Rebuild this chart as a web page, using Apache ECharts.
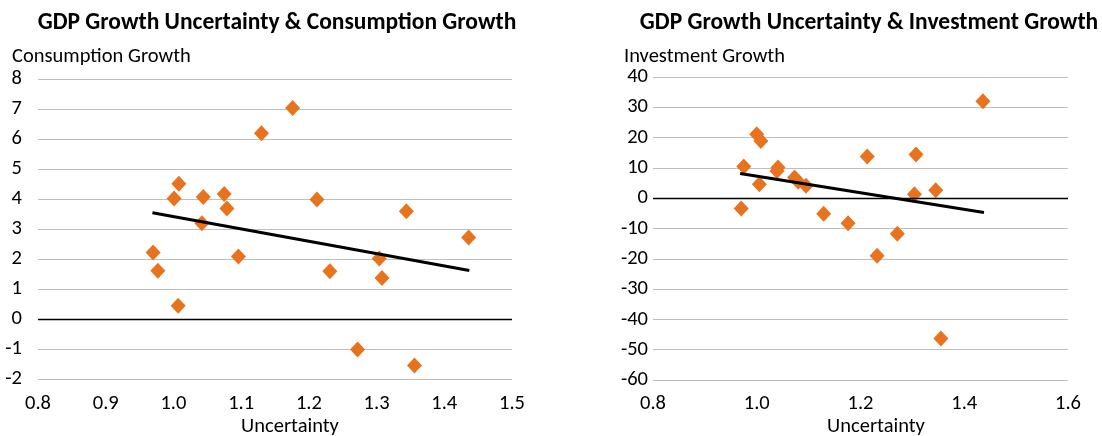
<!DOCTYPE html>
<html>
<head>
<meta charset="utf-8">
<script src="https://cdn.jsdelivr.net/npm/echarts@6/dist/echarts.min.js"></script>
<style>html,body{margin:0;padding:0;background:#fff}#c{width:1102px;height:436px}</style>
</head>
<body>
<div id="c"></div>
<script>
// ---- data ----
const titleLeft = 'GDP Growth Uncertainty & Consumption Growth';
const titleRight = 'GDP Growth Uncertainty & Investment Growth';
const yNameLeft = 'Consumption Growth';
const yNameRight = 'Investment Growth';
const xName = 'Uncertainty';

const consUncertainty = [1.176, 1.130, 1.008, 1.001, 1.044, 1.075, 1.079, 1.212, 1.344, 1.042, 0.970, 0.977, 1.007, 1.096, 1.231, 1.304, 1.308, 1.436, 1.272, 1.356];
const consGrowth      = [7.03, 6.19, 4.51, 4.02, 4.07, 4.17, 3.68, 3.98, 3.59, 3.19, 2.22, 1.61, 0.44, 2.08, 1.59, 2.02, 1.37, 2.72, -1.02, -1.55];
const consTrendX = [0.969, 1.437];
const consTrendY = [3.54, 1.62];

const invUncertainty = [1.436, 1.000, 1.008, 0.975, 1.041, 1.039, 1.005, 1.073, 1.080, 1.095, 1.213, 1.307, 1.304, 1.345, 0.970, 1.129, 1.176, 1.271, 1.232, 1.355];
const invGrowth      = [32.0, 21.1, 18.9, 10.5, 10.1, 9.0, 4.6, 6.8, 5.4, 4.1, 13.8, 14.4, 1.3, 2.6, -3.4, -5.1, -8.3, -11.7, -19.0, -46.3];
const invTrendX = [0.968, 1.438];
const invTrendY = [8.15, -4.7];

const leftXTicks = {min: 0.8, max: 1.5, interval: 0.1};
const leftYTicks = {min: -2, max: 8, interval: 1};
const rightXTicks = {min: 0.8, max: 1.6, interval: 0.2};
const rightYTicks = {min: -60, max: 40, interval: 10};

// ---- chart ----
const FONT = 'Carlito, Lato';
const LBL = 20.5;
const ORANGE = '#E8731F';
const GRID = '#BFBFBF';
const zip = (a, b) => a.map((v, i) => [v, b[i]]);

const chart = echarts.init(document.getElementById('c'), null, {renderer: 'canvas'});

function xAxis(gi, t, margin) {
  return {
    type: 'value', gridIndex: gi, min: t.min, max: t.max, interval: t.interval,
    axisLine: {show: false}, axisTick: {show: false}, splitLine: {show: false},
    axisLabel: {color: '#000', fontFamily: FONT, fontSize: LBL, margin: margin,
      formatter: v => v.toFixed(1)}
  };
}
function yAxis(gi, t, margin) {
  return {
    type: 'value', gridIndex: gi, min: t.min, max: t.max, interval: t.interval,
    axisLine: {show: false}, axisTick: {show: false},
    splitLine: {show: true, lineStyle: {color: GRID, width: 1}},
    axisLabel: {color: '#000', fontFamily: FONT, fontSize: LBL, margin: margin}
  };
}
function scatter(gi, data) {
  return {
    type: 'scatter', xAxisIndex: gi, yAxisIndex: gi, data: data,
    symbol: 'diamond', symbolSize: [15, 16],
    itemStyle: {color: ORANGE, opacity: 1}, z: 3,
    markLine: {
      silent: true, symbol: 'none', label: {show: false},
      lineStyle: {color: '#000', width: 1.3, type: 'solid'},
      data: [{yAxis: 0}]
    }
  };
}
function trend(gi, xs, ys) {
  return {
    type: 'line', xAxisIndex: gi, yAxisIndex: gi, data: zip(xs, ys),
    showSymbol: false, symbol: 'none', z: 4,
    lineStyle: {color: '#000', width: 3}
  };
}
function txt(x, y, s, opts) {
  return {
    type: 'text', x: x, y: y,
    style: Object.assign({text: s, fill: '#000', fontFamily: FONT, fontSize: LBL,
      textVerticalAlign: 'middle'}, opts || {})
  };
}

chart.setOption({
  animation: false,
  grid: [
    {left: 38, top: 79, width: 474, height: 300},
    {left: 653, top: 77, width: 415, height: 303}
  ],
  xAxis: [xAxis(0, leftXTicks, 14), xAxis(1, rightXTicks, 13)],
  yAxis: [yAxis(0, leftYTicks, 16), yAxis(1, rightYTicks, 5)],
  series: [
    scatter(0, zip(consUncertainty, consGrowth)),
    trend(0, consTrendX, consTrendY),
    scatter(1, zip(invUncertainty, invGrowth)),
    trend(1, invTrendX, invTrendY)
  ],
  graphic: [
    txt(277, 23, titleLeft, {fontWeight: 'bold', fontSize: 23.5, textAlign: 'center'}),
    txt(869, 23, titleRight, {fontWeight: 'bold', fontSize: 23.5, textAlign: 'center'}),
    txt(12, 57, yNameLeft, {textAlign: 'left'}),
    txt(624, 57, yNameRight, {textAlign: 'left'}),
    txt(290, 427, xName, {textAlign: 'center'}),
    txt(876, 427, xName, {textAlign: 'center'})
  ]
});
</script>
</body>
</html>
